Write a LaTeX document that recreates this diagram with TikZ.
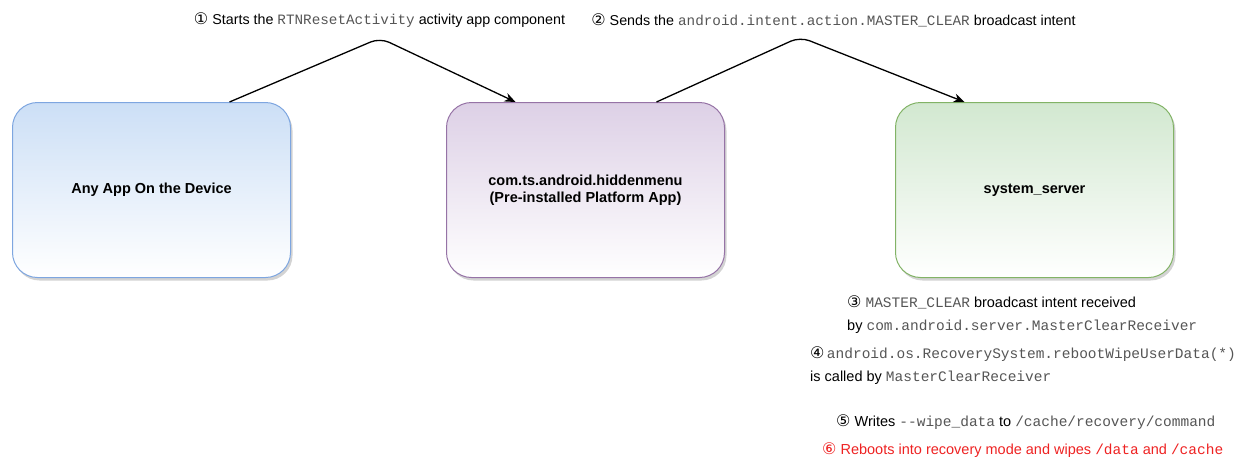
\documentclass[tikz,border=0pt]{standalone}
\usepackage{fontspec}
\setmainfont{Liberation Sans}
\setmonofont{Liberation Mono}
\newfontfamily\circfont{DejaVu Sans}
\usepackage{tikz}
\usetikzlibrary{
  arrows.meta,
  positioning,
  shadows
}
\definecolor{appBlue}{HTML}{CCDFF6}
\definecolor{appBlueLine}{HTML}{7EA6E0}
\definecolor{appPurple}{HTML}{DDD0E6}
\definecolor{appPurpleLine}{HTML}{9673A6}
\definecolor{appGreen}{HTML}{D2E8D0}
\definecolor{appGreenLine}{HTML}{82B366}
\definecolor{stepRed}{HTML}{EE2222}
\definecolor{monoGray}{HTML}{555555}
\newcommand{\circnum}[1]{{\circfont\fontsize{16}{17}\selectfont #1}}
\newcommand{\code}[1]{{\ttfamily\color{monoGray}#1}}
\tikzset{
  appbox/.style={
    draw, rounded corners=25pt, minimum width=278pt, minimum height=175pt,
    font=\fontsize{14.5}{17}\selectfont\bfseries, align=center, line width=1pt,
    drop shadow={opacity=0.35, shadow xshift=2pt, shadow yshift=-3pt}
  },
  anyapp/.style={appbox, top color=appBlue, bottom color=white, draw=appBlueLine},
  platform/.style={appbox, top color=appPurple, bottom color=white, draw=appPurpleLine},
  sysserver/.style={appbox, top color=appGreen, bottom color=white, draw=appGreenLine},
  flow/.style={-{Stealth[length=11pt, width=9pt]}, line width=1.3pt, rounded corners=10pt},
  steptext/.style={font=\fontsize{14.5}{23}\selectfont, align=left, inner sep=0pt},
  toptext/.style={font=\fontsize{14.3}{17}\selectfont, inner sep=0pt}
}

\begin{document}
\begin{tikzpicture}[x=1pt, y=-1pt, node distance=10pt]
  \useasboundingbox (0,0) rectangle (1241,458);
  \node[anyapp] (anyapp) at (151.5,190) {Any App On the Device};
  \node[platform, right=155pt of anyapp] (hidden) {com.ts.android.hiddenmenu\\(Pre-installed Platform App)};
  \node[sysserver, right=170pt of hidden] (sysserver) {system\_server};

  \coordinate (peakA) at (380,38);
  \coordinate (peakB) at (800,37);
  \draw[flow] ([xshift=78pt]anyapp.north) -- (peakA) -- ([xshift=-70pt]hidden.north);
  \draw[flow] ([xshift=71pt]hidden.north) -- (peakB) -- ([xshift=-70pt]sysserver.north);

  \node[toptext] (stepone) at (379.5,20) {\circnum{①} Starts the \code{RTNResetActivity} activity app component};
  \node[toptext] (steptwo) at (833.5,20) {\circnum{②} Sends the \code{android.intent.action.MASTER\_CLEAR} broadcast intent};

  \node[steptext, anchor=west] (stepthree) at (847,315) {\circnum{③} \code{MASTER\_CLEAR} broadcast intent received\\by \code{com.android.server.MasterClearReceiver}};
  \node[steptext, anchor=west] (stepfour) at (810,365.5) {\circnum{④}\,\code{android.os.RecoverySystem.rebootWipeUserData(*)}\\is called by \code{MasterClearReceiver}};
  \node[steptext, anchor=west] (stepfive) at (836,422) {\circnum{⑤} Writes \code{-{}-wipe\_data} to \code{/cache/recovery/command}};
  \node[steptext, anchor=west, text=stepRed] (stepsix) at (822,450) {\circnum{⑥} Reboots into recovery mode and wipes {\ttfamily /data} and {\ttfamily /cache}};
\end{tikzpicture}
\end{document}
